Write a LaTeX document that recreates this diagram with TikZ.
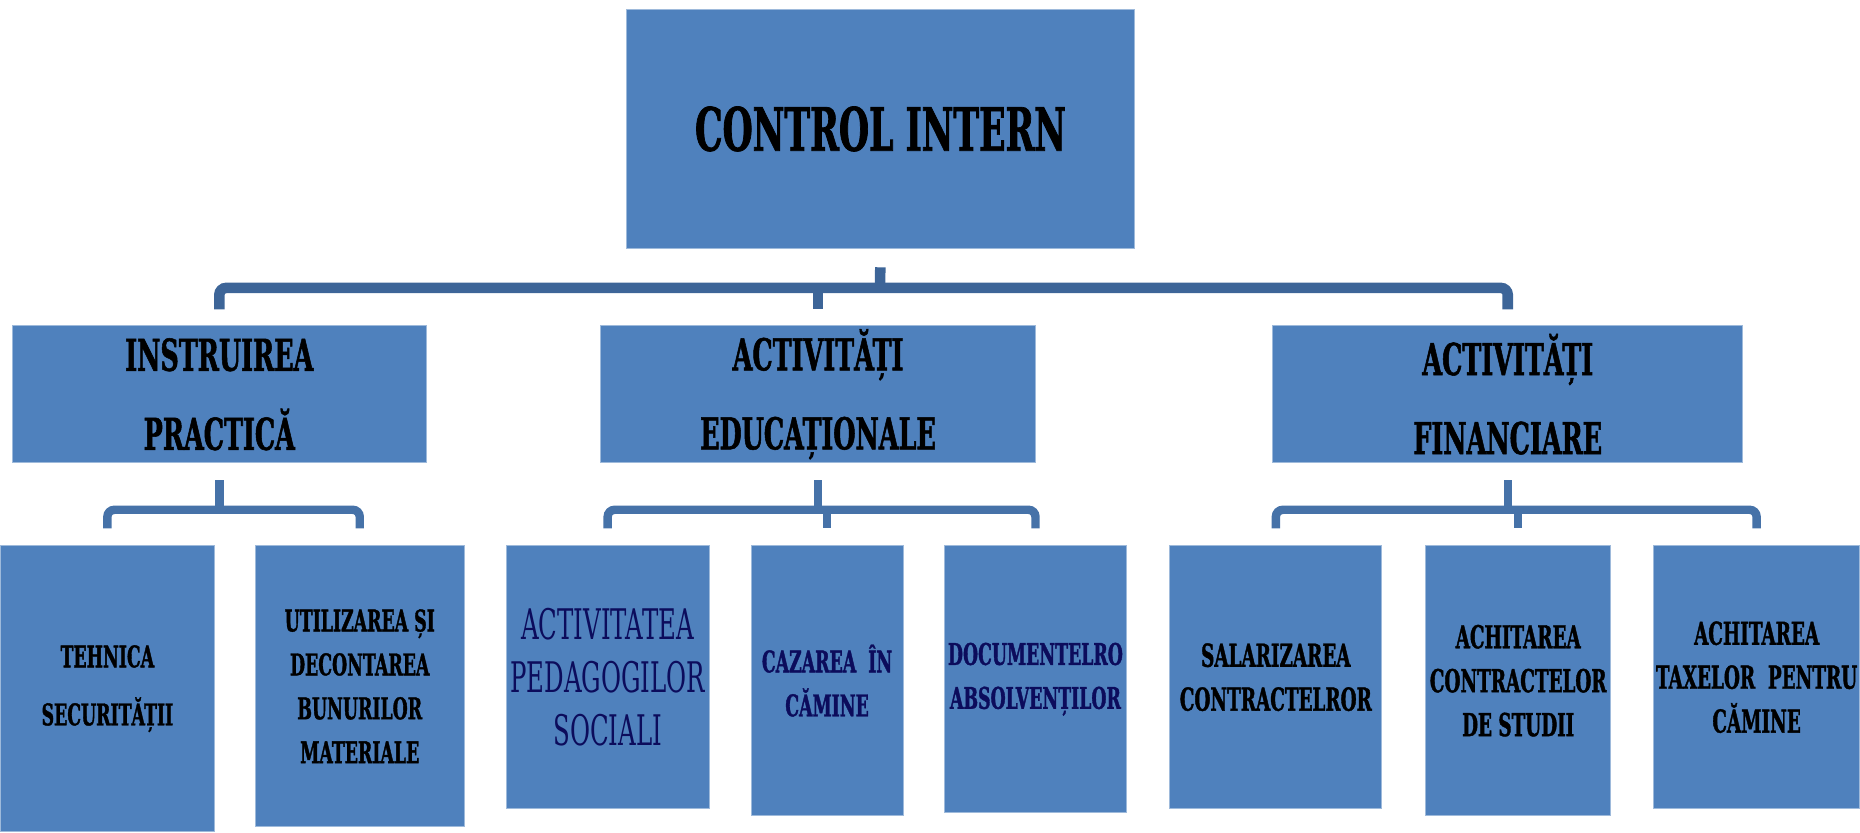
\documentclass[tikz,border=0pt]{standalone}
\usepackage{fontspec}
\setmainfont{DejaVu Serif}[FakeStretch=0.58, BoldFeatures={FakeBold=1.2}]
\usetikzlibrary{calc}
\definecolor{boxblue}{RGB}{79,129,189}
\definecolor{busblue}{RGB}{61,101,152}
\definecolor{brkblue}{RGB}{70,114,168}
\definecolor{navytext}{RGB}{12,12,92}

\begin{document}
\begin{tikzpicture}[x=0.02cm, y=-0.02cm,
  box/.style={fill=boxblue, draw=boxblue!55!white, line width=0.5pt, inner sep=0pt, align=center},
  boxsize/.style 2 args={minimum width=#1, minimum height=#2},
  rootbox/.style={box, boxsize={10.18cm}{4.8cm}, font=\fontsize{34}{40}\selectfont\bfseries},
  midbox/.style={box, font=\fontsize{25}{45}\selectfont\bfseries},
  leafbox/.style={box, font=\fontsize{17}{25}\selectfont\bfseries},
  navyleaf/.style={leafbox, text=navytext},
  bus/.style={draw=busblue, line width=6pt, rounded corners=4pt, shorten <=0.32cm, shorten >=0.32cm},
  brk/.style={draw=brkblue, line width=4.8pt, rounded corners=4pt, shorten <=0.34cm, shorten >=0.34cm}
]
\node[rootbox] (ctrl) at (880.5,129) {CONTROL INTERN};

\node[midbox, boxsize={8.28cm}{2.74cm}] (instr) at (219,394.5) {INSTRUIREA\\PRACTICĂ};
\node[midbox, boxsize={8.72cm}{2.74cm}] (edu) at (818,394.5) {ACTIVITĂȚI\\EDUCAȚIONALE};
\node[midbox, boxsize={9.4cm}{2.74cm}] (fin) at (1508,394.5) {ACTIVITĂȚI\\FINANCIARE};

\node[leafbox, boxsize={4.28cm}{5.72cm}, font=\fontsize{17}{33}\selectfont\bfseries] (tehn) at (107,689) {TEHNICA\\SECURITĂȚII};
\node[leafbox, boxsize={4.18cm}{5.62cm}] (util) at (359.5,686.5) {UTILIZAREA ȘI\\DECONTAREA\\BUNURILOR\\MATERIALE};
\node[navyleaf, boxsize={4.06cm}{5.26cm}, font=\fontsize{24}{30}\selectfont] (peda) at (607.5,677.5) {ACTIVITATEA\\PEDAGOGILOR\\SOCIALI};
\node[navyleaf, boxsize={3.04cm}{5.4cm}] (caza) at (827,681) {CAZAREA \ ÎN\\CĂMINE};
\node[navyleaf, boxsize={3.66cm}{5.34cm}] (docs) at (1035.5,679.5) {DOCUMENTELRO\\ABSOLVENȚILOR};
\node[leafbox, boxsize={4.24cm}{5.26cm}, font=\fontsize{18}{25}\selectfont\bfseries] (salar) at (1276,677.5) {SALARIZAREA\\CONTRACTELROR};
\node[leafbox, boxsize={3.7cm}{5.4cm}, font=\fontsize{18}{25}\selectfont\bfseries] (studii) at (1518.5,681) {ACHITAREA\\CONTRACTELOR\\DE STUDII};
\node[leafbox, boxsize={4.12cm}{5.26cm}, font=\fontsize{18}{25}\selectfont\bfseries] (taxe) at (1757,677.5) {ACHITAREA\\TAXELOR \ PENTRU\\CĂMINE};

\coordinate (hubctrl) at (880,288);
\coordinate (hubinstr) at (219,510);
\coordinate (hubedu) at (818,510);
\coordinate (hubfin) at (1508,510);

\draw[bus, shorten >=0pt, shorten <=0.36cm] (ctrl.south) -- (hubctrl);
\draw[bus] (instr.north) |- (hubctrl) -| (fin.north);
\draw[bus, shorten <=0pt] (hubctrl -| edu.north) -- (edu.north);

\draw[brk, shorten >=0pt] (instr.south) -- (hubinstr);
\draw[brk] (tehn.north) |- (hubinstr) -| (util.north);

\draw[brk, shorten >=0pt] (edu.south) -- (hubedu);
\draw[brk] (peda.north) |- (hubedu) -| (docs.north);
\draw[brk, shorten <=0pt] (hubedu -| caza.north) -- (caza.north);

\draw[brk, shorten >=0pt] (fin.south) -- (hubfin);
\draw[brk] (salar.north) |- (hubfin) -| (taxe.north);
\draw[brk, shorten <=0pt] (hubfin -| studii.north) -- (studii.north);

\useasboundingbox (0,0) rectangle (1860,832);
\end{tikzpicture}
\end{document}
